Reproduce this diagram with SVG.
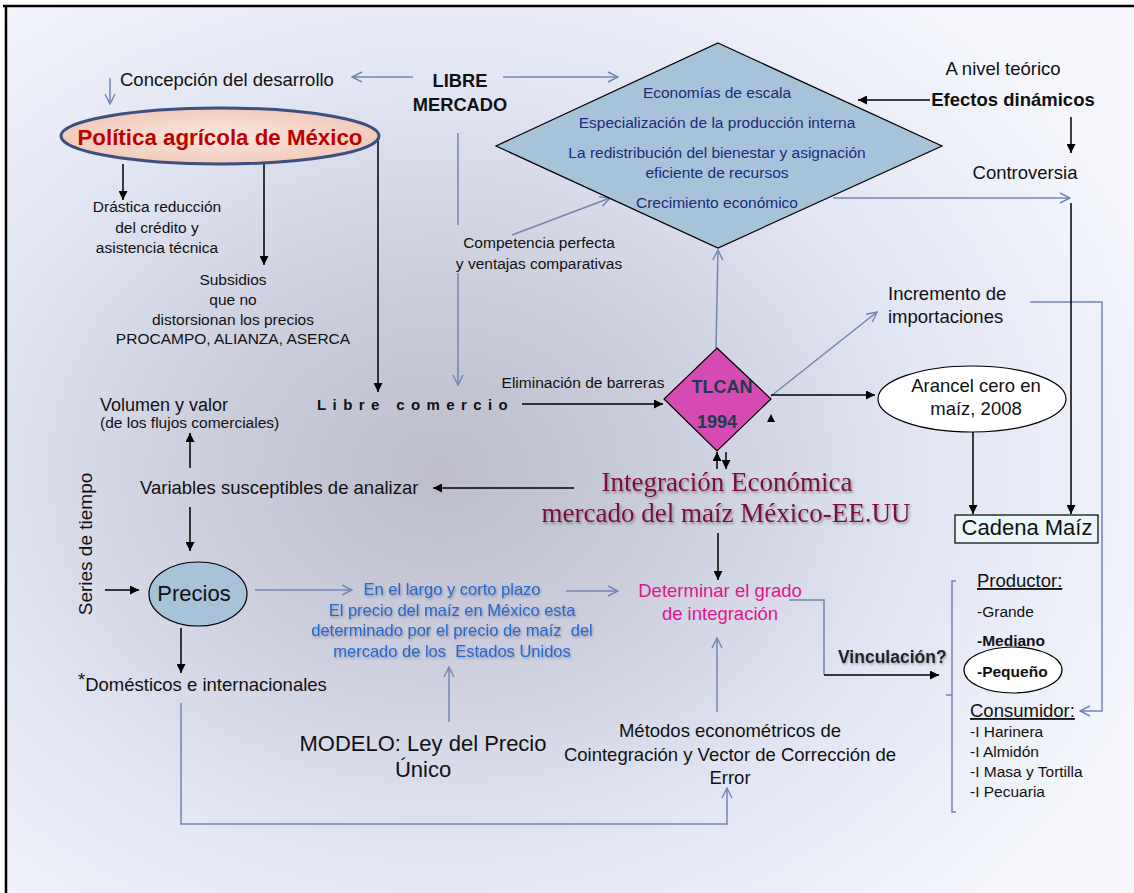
<svg xmlns="http://www.w3.org/2000/svg" width="1134" height="893" viewBox="0 0 1134 893">
<defs>
<radialGradient id="bg" gradientUnits="userSpaceOnUse" cx="440" cy="470" r="600" gradientTransform="translate(440 470) scale(1.25 1) translate(-440 -470)">
<stop offset="0" stop-color="#bdbdcb"/>
<stop offset="0.3" stop-color="#cbcddd"/>
<stop offset="0.65" stop-color="#e2e5f3"/>
<stop offset="1" stop-color="#f4f6fc"/>
</radialGradient>
<radialGradient id="pk" cx="0.5" cy="0.5" r="0.6">
<stop offset="0" stop-color="#fbe6dd"/>
<stop offset="1" stop-color="#efc6b6"/>
</radialGradient>
<marker id="bk" viewBox="0 0 10 10" refX="10" refY="5" markerWidth="9" markerHeight="9" markerUnits="userSpaceOnUse" orient="auto"><path d="M0,0 L10,5 L0,10 z" fill="#000"/></marker>
<marker id="bl" viewBox="0 0 12 12" refX="11" refY="6" markerWidth="12" markerHeight="12" markerUnits="userSpaceOnUse" orient="auto"><path d="M1,1 L11,6 L1,11" fill="none" stroke="#7384b4" stroke-width="1.4"/></marker>
<filter id="sh" x="-5%" y="-20%" width="110%" height="140%"><feDropShadow dx="1" dy="1.5" stdDeviation="0.8" flood-color="#6a6a7a" flood-opacity="0.6"/></filter>
<filter id="sh2" x="-5%" y="-20%" width="110%" height="140%"><feDropShadow dx="1.5" dy="2" stdDeviation="1.2" flood-color="#555" flood-opacity="0.55"/></filter>
</defs>
<style>
text{font-family:"Liberation Sans",Arial,sans-serif;fill:#111}
.s{font-size:15.5px}
.m{font-size:18.5px}
.l{font-size:22px}
.c{text-anchor:middle}
.b{font-weight:bold}
.bl{fill:none;stroke:#7384b4;stroke-width:1.5}
.bk{fill:none;stroke:#000;stroke-width:1.5}
.ab{marker-end:url(#bl)}
.ak{marker-end:url(#bk)}
.dt{fill:#1d2b7a;font-size:15.5px;text-anchor:middle}
.bt{fill:#2469cf;font-size:16.5px;text-anchor:middle}
</style>
<rect x="6" y="6" width="1128" height="887" fill="url(#bg)"/>
<path d="M3,6 H1134 M6,6 V893" stroke="#000" stroke-width="2.5" fill="none"/>

<g id="connectors">
<path class="bl ab" d="M413,77 L352,77"/>
<path class="bl ab" d="M110,78 L110,104"/>
<path class="bl ab" d="M503,77 L618,77"/>
<path class="bl" d="M458,133 L458,225"/>
<path class="bl ab" d="M458,273 L458,385"/>
<path class="bl ab" d="M512,235 L610,198"/>
<path class="bl ab" d="M833,198 L1070,198"/>
<path class="bl ab" d="M716,348 L718,250"/>
<path class="bl ab" d="M771,396 L877,312"/>
<path class="bl ab" d="M1030,302 L1102,302 L1102,711 L1080,711"/>
<path class="bl ab" d="M255,590 L352,590"/>
<path class="bl ab" d="M566,591 L618,591"/>
<path class="bl" d="M789,600 L824,600 L824,675"/>
<path class="bl ab" d="M449,722 L449,667"/>
<path class="bl ab" d="M717,712 L717,638"/>
<path class="bl ab" d="M181,703 L181,824 L727,824 L727,788"/>
<path class="bl" d="M956,581 L952,581 L952,812 L956,812 M952,695 L946,695"/>
<path class="bk ak" d="M930,100 L858,100"/>
<path class="bk ak" d="M1071,117 L1071,153"/>
<path class="bk ak" d="M1071,203 L1071,514"/>
<path class="bk ak" d="M123,164 L123,200"/>
<path class="bk ak" d="M264,164 L264,265"/>
<path class="bk ak" d="M378,137 L378,392"/>
<path class="bk ak" d="M522,404 L663,404"/>
<path class="bk ak" d="M771,395 L875,395"/>
<path class="bk ak" d="M973,432 L973,514"/>
<path class="bk ak" d="M717,469 L717,452"/>
<path class="bk ak" d="M726,452 L726,469"/>
<path class="bk ak" d="M574,488 L433,488"/>
<path class="bk ak" d="M190,468 L190,433"/>
<path class="bk ak" d="M190,507 L190,551"/>
<path class="bk ak" d="M105,590 L139,590"/>
<path class="bk ak" d="M181,628 L181,673"/>
<path class="bk ak" d="M718,533 L718,580"/>
<path class="bk ak" d="M824,675 L939,675"/>
<polygon points="767,422 771,414 775,422" fill="#000"/>
</g>

<g id="concepcion"><text class="m" x="120" y="86">Concepción del desarrollo</text></g>
<g id="libre-mercado"><text class="c b" style="font-size:18.3px" x="460" y="87">LIBRE</text><text class="c b" style="font-size:18.3px" x="460" y="111">MERCADO</text></g>
<g id="politica">
<ellipse cx="220" cy="136" rx="159" ry="28" fill="url(#pk)" stroke="#3f4e7e" stroke-width="3"/>
<text class="c b" x="220" y="145" style="font-size:22.3px;fill:#c00000">Política agrícola de México</text>
</g>
<g id="drastica"><text class="s c" x="157" y="212">Drástica reducción</text><text class="s c" x="157" y="233">del crédito y</text><text class="s c" x="157" y="253">asistencia técnica</text></g>
<g id="subsidios"><text class="s c" x="233" y="285">Subsidios</text><text class="s c" x="233" y="305">que no</text><text class="s c" x="233" y="325">distorsionan los precios</text><text class="s c" x="233" y="344">PROCAMPO, ALIANZA, ASERCA</text></g>
<g id="efectos-diamante">
<polygon points="718,43 942,146 718,248 496,146" fill="#a6c3da" stroke="#000" stroke-width="1.2"/>
<text class="dt" x="717" y="98">Economías de escala</text>
<text class="dt" x="717" y="128">Especialización de la producción interna</text>
<text class="dt" x="717" y="158">La redistribución del bienestar y asignación</text>
<text class="dt" x="717" y="178">eficiente de recursos</text>
<text class="dt" x="717" y="208">Crecimiento económico</text>
</g>
<g id="nivel-teorico"><text class="m c" x="1003" y="75">A nivel teórico</text></g>
<g id="efectos-dinamicos"><text class="m b c" x="1013" y="106">Efectos dinámicos</text></g>
<g id="controversia"><text class="m c" x="1025" y="179">Controversia</text></g>
<g id="competencia"><text class="s c" x="539" y="248">Competencia perfecta</text><text class="s c" x="539" y="269">y ventajas comparativas</text></g>
<g id="incremento"><text class="m" x="888" y="300">Incremento de</text><text class="m" x="888" y="323">importaciones</text></g>
<g id="eliminacion"><text class="s c" x="583" y="388">Eliminación de barreras</text></g>
<g id="libre-comercio"><text class="b" x="317" y="410" style="font-size:15px;letter-spacing:6.4px">Libre comercio</text></g>
<g id="tlcan">
<polygon points="717,348 771,399 717,451 664,399" fill="#d54bb2" stroke="#000" stroke-width="1.2"/>
<text class="c b" x="722" y="393" style="font-size:18px;fill:#1e3a4c">TLCAN</text>
<text class="c b" x="717" y="428" style="font-size:18px;fill:#1e3a4c">1994</text>
</g>
<g id="arancel">
<ellipse cx="972" cy="399" rx="94" ry="33" fill="#fff" stroke="#000" stroke-width="1.2"/>
<text class="m c" x="976" y="392">Arancel cero en</text><text class="m c" x="976" y="415">maíz, 2008</text>
</g>
<g id="cadena">
<rect x="955" y="515" width="143" height="28" fill="#eaf6fa" stroke="#000" stroke-width="1.2"/>
<text class="l c" x="1027" y="535">Cadena Maíz</text>
</g>
<g id="volumen"><text x="100" y="411" style="font-size:18px">Volumen y valor</text><text class="s" x="100" y="428">(de los flujos comerciales)</text></g>
<g id="variables"><text class="m" x="140" y="494">Variables susceptibles de analizar</text></g>
<g id="integracion" filter="url(#sh2)">
<text class="c" x="727" y="491" style="font-family:'Liberation Serif','Times New Roman',serif;font-size:27px;fill:#7b0c3a">Integración Económica</text>
<text class="c" x="726" y="522" style="font-family:'Liberation Serif','Times New Roman',serif;font-size:27px;fill:#7b0c3a">mercado del maíz México-EE.UU</text>
</g>
<g id="series"><text class="c" transform="translate(92,544) rotate(-90)" style="font-size:19px">Series de tiempo</text></g>
<g id="precios">
<ellipse cx="198" cy="594" rx="49" ry="32" fill="#a6c3da" stroke="#000" stroke-width="1.2"/>
<text class="l c" x="194" y="601">Precios</text>
</g>
<g id="domesticos"><text class="m" x="78" y="691"><tspan dy="-5">*</tspan><tspan dy="5">Domésticos e internacionales</tspan></text></g>
<g id="largo-plazo" filter="url(#sh)">
<text class="bt" x="452" y="595">En el largo y corto plazo</text>
<text class="bt" x="452" y="616">El precio del maíz en México esta</text>
<text class="bt" x="452" y="636" xml:space="preserve">determinado por el precio de maíz  del</text>
<text class="bt" x="452" y="657" xml:space="preserve">mercado de los  Estados Unidos</text>
</g>
<g id="modelo"><text class="l c" x="423" y="751">MODELO: Ley del Precio</text><text class="l c" x="423" y="777">Único</text></g>
<g id="determinar"><text class="m c" x="720" y="597" style="fill:#e0168f">Determinar el grado</text><text class="m c" x="720" y="620" style="fill:#e0168f">de integración</text></g>
<g id="vinculacion" filter="url(#sh)"><text class="b" x="838" y="663" style="font-size:17.5px;fill:#222">Vinculación?</text></g>
<g id="metodos"><text class="m c" x="730" y="737">Métodos econométricos de</text><text class="m c" x="730" y="761">Cointegración y Vector de Corrección de</text><text class="m c" x="730" y="784">Error</text></g>
<g id="productor">
<text class="m" x="977" y="587" text-decoration="underline">Productor:</text>
<text class="s" x="977" y="617">-Grande</text>
<text class="s b" x="977" y="646">-Mediano</text>
<ellipse cx="1013" cy="670" rx="49" ry="23" fill="#fff" stroke="#000" stroke-width="1.2"/>
<text class="s b" x="977" y="677">-Pequeño</text>
</g>
<g id="consumidor">
<text class="m" x="970" y="717" text-decoration="underline">Consumidor:</text>
<text class="s" x="970" y="737">-I Harinera</text>
<text class="s" x="970" y="757">-I Almidón</text>
<text class="s" x="970" y="777">-I Masa y Tortilla</text>
<text class="s" x="970" y="797">-I Pecuaria</text>
</g>
</svg>
